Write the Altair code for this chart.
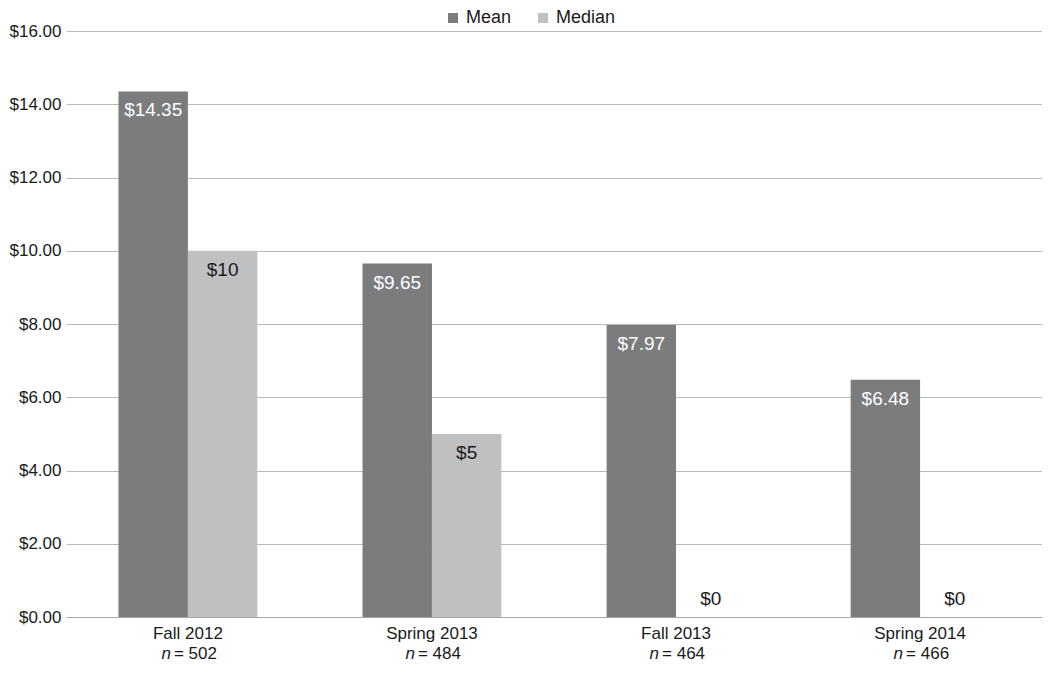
import altair as alt
import pandas as pd

categories = ["Fall 2012", "Spring 2013", "Fall 2013", "Spring 2014"]
n_values = [502, 484, 464, 466]
mean_values = [14.35, 9.65, 7.97, 6.48]
median_values = [10, 5, 0, 0]
series = ["Mean", "Median"]
y_ticks = [0, 2, 4, 6, 8, 10, 12, 14, 16]

rows = []
for c, m, md in zip(categories, mean_values, median_values):
    rows.append({"term": c, "stat": "Mean", "value": m, "label": f"${m:.2f}"})
    rows.append({"term": c, "stat": "Median", "value": md, "label": f"${md:.0f}"})
df = pd.DataFrame(rows)
cat_df = pd.DataFrame({"term": categories, "nlabel": [f"= {n}" for n in n_values]})

W, H = 976, 586
FONT = "Liberation Sans"
TXT = "#1a1a1a"

x = alt.X("term:N", sort=categories,
          scale=alt.Scale(paddingInner=0.431, paddingOuter=0.215),
          axis=alt.Axis(labels=False, ticks=False, title=None, grid=False,
                        domainColor="#a6a6a6", domainWidth=1))
xo = alt.XOffset("stat:N", sort=series)
y = alt.Y("value:Q", scale=alt.Scale(domain=[0, 16]),
          axis=alt.Axis(values=y_ticks, format="$.2f", title=None, domain=False,
                        ticks=False, labelPadding=5, gridColor="#b8b8b8",
                        labelFontSize=17, labelColor=TXT, labelFont=FONT))

bars = alt.Chart(df).mark_bar().encode(
    x=x, xOffset=xo, y=y,
    color=alt.Color("stat:N", scale=alt.Scale(domain=series, range=["#7b7c7e", "#bfc0c2"]),
                    legend=alt.Legend(orient="none", legendX=378, legendY=-22,
                                      direction="horizontal", title=None,
                                      symbolType="square", symbolSize=100,
                                      labelFontSize=18, labelFont=FONT, labelColor=TXT,
                                      columnPadding=22, labelOffset=4,
                                      symbolStrokeWidth=0)),
)

inside = alt.Chart(df).transform_filter("datum.value > 0").mark_text(
    baseline="middle", dy=19, fontSize=19, font=FONT
).encode(
    x=x, xOffset=xo, y=y, text="label:N",
    color=alt.condition("datum.stat == 'Mean'", alt.value("white"), alt.value(TXT)),
)

zero = alt.Chart(df).transform_filter("datum.value == 0").mark_text(
    baseline="middle", dy=-18, fontSize=19, font=FONT, color=TXT
).encode(x=x, xOffset=xo, y=y, text="label:N")

cat_lab = alt.Chart(cat_df).mark_text(
    baseline="middle", fontSize=17, font=FONT, color=TXT
).encode(x=x, y=alt.value(H + 17), text="term:N")

n_ital = alt.Chart(cat_df).mark_text(
    baseline="middle", align="right", dx=-17, fontSize=17, font=FONT,
    fontStyle="italic", color=TXT
).encode(x=x, y=alt.value(H + 37), text=alt.value("n"))

n_val = alt.Chart(cat_df).mark_text(
    baseline="middle", align="left", dx=-14, fontSize=17, font=FONT, color=TXT
).encode(x=x, y=alt.value(H + 37), text="nlabel:N")

chart = alt.layer(bars, inside, zero, cat_lab, n_ital, n_val).properties(
    width=W, height=H, autosize="none",
    padding={"left": 58, "top": 23, "right": 0, "bottom": 48},
).configure(font=FONT).configure_view(strokeWidth=0)

chart.save("out.html", embed_options={"renderer": "svg", "actions": False})
